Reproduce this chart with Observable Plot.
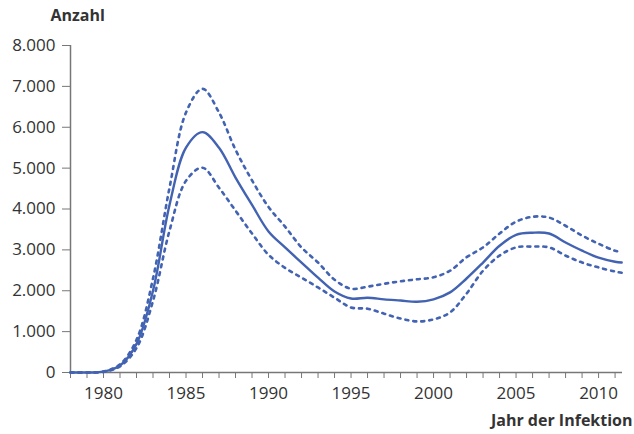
<!DOCTYPE html>
<html>
<head>
<meta charset="utf-8">
<script src="https://cdn.jsdelivr.net/npm/d3@7"></script>
<script src="https://cdn.jsdelivr.net/npm/@observablehq/plot@0.6"></script>
<style>
  html, body { margin: 0; padding: 0; background: #fff; }
  #chart { width: 634px; height: 434px; }
</style>
</head>
<body>
<div id="chart"></div>
<script>
const years = [1978,1979,1980,1981,1982,1983,1984,1985,1986,1987,1988,1989,1990,1991,1992,1993,1994,1995,1996,1997,1998,1999,2000,2001,2002,2003,2004,2005,2006,2007,2008,2009,2010,2011,2011.4];
const estimate = [0,0,20,170,700,2000,4100,5500,5880,5500,4770,4100,3450,3060,2690,2320,1980,1810,1830,1790,1760,1730,1790,1960,2300,2690,3100,3370,3420,3400,3180,2980,2810,2710,2690];
const upper = [0,0,25,200,800,2300,4520,6360,6940,6360,5450,4700,4050,3570,3060,2690,2270,2050,2100,2170,2230,2280,2330,2490,2820,3060,3400,3690,3810,3790,3590,3350,3150,2980,2950];
const lower = [0,0,15,150,600,1750,3470,4690,5010,4520,3960,3400,2880,2560,2320,2080,1830,1590,1560,1440,1320,1250,1300,1470,1930,2490,2860,3060,3080,3060,2860,2690,2570,2470,2440];
const yTicks = [0,1000,2000,3000,4000,5000,6000,7000,8000];
const xMinorTicks = d3.range(1978, 2012);
const xLabelTicks = [1980,1985,1990,1995,2000,2005,2010];
const yTitle = "Anzahl";
const xTitle = "Jahr der Infektion";

const de = d3.formatLocale({decimal: ",", thousands: ".", grouping: [3], currency: ["", " €"]});
const fmt = de.format(",");

const rows = years.map((y, i) => ({year: y, est: estimate[i], up: upper[i], lo: lower[i]}));

const blue = "#4262b2";
const axisGray = "#777";
const textColor = "#333";
const font = "Open Sans, Noto Sans, sans-serif";

const chart = Plot.plot({
  width: 634,
  height: 434,
  marginLeft: 70,
  marginRight: 12,
  marginTop: 45,
  marginBottom: 62,
  style: {fontFamily: font, fontSize: "17px", color: textColor, background: "#fff"},
  x: {domain: [1978, 2011.45]},
  y: {domain: [0, 8000]},
  marks: [
    Plot.axisY({ticks: yTicks, tickFormat: fmt, tickSize: 8, tickPadding: 7, stroke: axisGray, label: null, fontSize: 17}),
    Plot.axisX({ticks: xMinorTicks, tickFormat: () => "", tickSize: 6, stroke: axisGray, label: null}),
    Plot.axisX({ticks: xLabelTicks, tickFormat: d => String(d), tickSize: 0, tickPadding: 14, label: null, fontSize: 17}),
    Plot.ruleX([1978], {y1: 0, y2: 8000, stroke: axisGray, strokeWidth: 1.5}),
    Plot.ruleY([0], {stroke: axisGray, strokeWidth: 1.5}),
    Plot.line(rows, {x: "year", y: "up", curve: "catmull-rom", stroke: blue, strokeWidth: 2.6, strokeDasharray: "3,5"}),
    Plot.line(rows, {x: "year", y: "lo", curve: "catmull-rom", stroke: blue, strokeWidth: 2.6, strokeDasharray: "3,5"}),
    Plot.line(rows, {x: "year", y: "est", curve: "catmull-rom", stroke: blue, strokeWidth: 2.4}),
    Plot.text([yTitle], {frameAnchor: "top-left", dx: -20, dy: -36, text: d => d, textAnchor: "start", fontWeight: "bold", fontSize: 16, fill: textColor}),
    Plot.text([xTitle], {frameAnchor: "bottom-right", dx: 10, dy: 53, text: d => d, textAnchor: "end", fontWeight: "bold", fontSize: 16, fill: textColor})
  ]
});
document.getElementById("chart").appendChild(chart);
</script>
</body>
</html>
